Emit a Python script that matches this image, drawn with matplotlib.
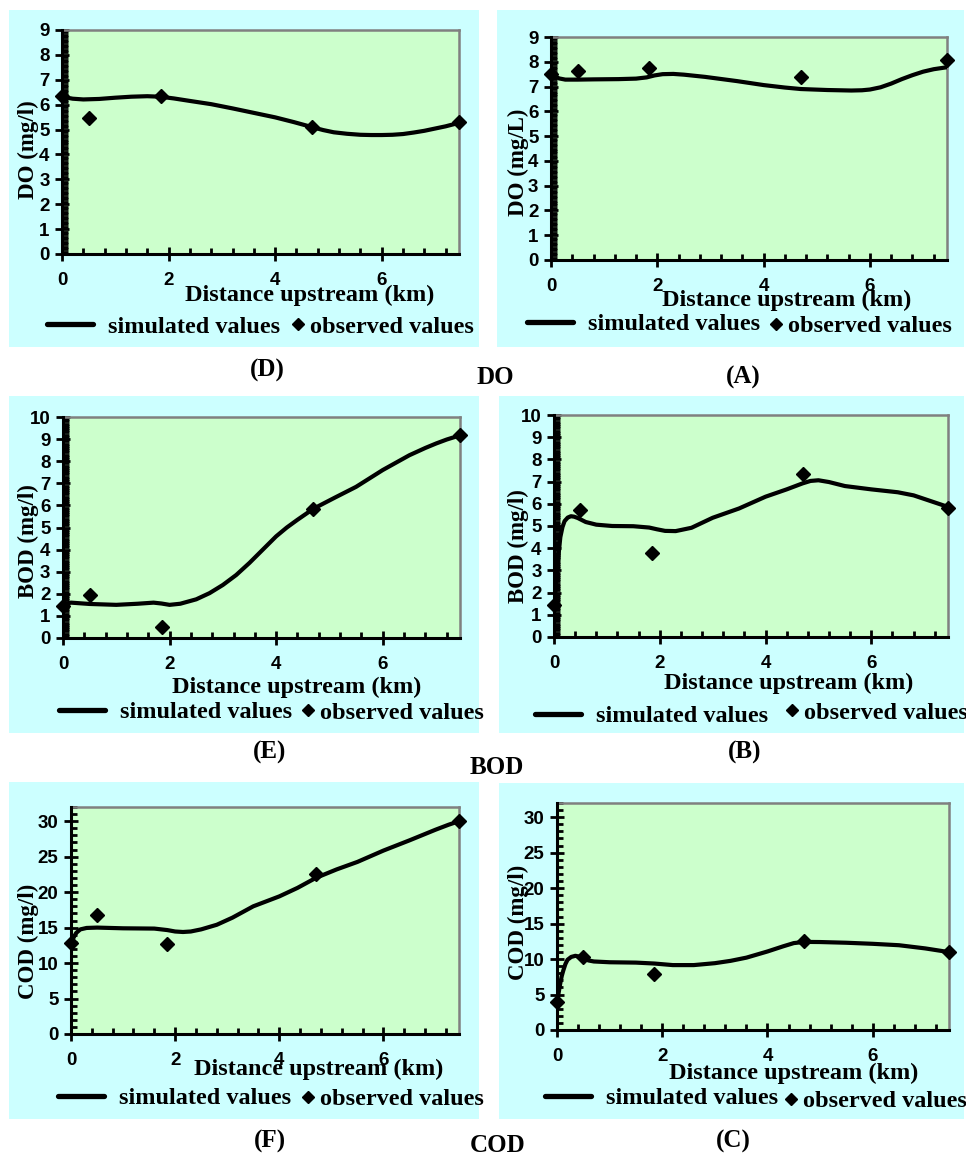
import numpy as np
import matplotlib
matplotlib.use('Agg')
import matplotlib.pyplot as plt
from matplotlib.patches import Rectangle
from matplotlib.ticker import MultipleLocator

plt.rcParams['font.family'] = ['Liberation Serif', 'DejaVu Serif']
TICK_FONT = ['Liberation Sans Narrow', 'Liberation Sans', 'DejaVu Sans']

W, H = 966, 1156
CYAN = '#ccffff'
GREEN = '#ccffcc'

# observed sampling stations (km upstream)
obs_x = [0, 0.5, 1.85, 4.7, 7.45]

# --- DO ---
do_d_obs = [6.35, 5.45, 6.33, 5.1, 5.3]
do_d_sim_x = [0, 0.2, 0.4, 0.7, 1.0, 1.3, 1.6, 1.84, 2.1, 2.4, 2.8, 3.2, 3.6, 4.0, 4.35, 4.69, 4.9,
              5.1, 5.35, 5.6, 5.8, 6.0, 6.2, 6.4, 6.6, 6.8, 7.0, 7.2, 7.45]
do_d_sim_y = [6.32, 6.24, 6.21, 6.23, 6.28, 6.32, 6.34, 6.32, 6.25, 6.15, 6.02, 5.85, 5.67, 5.49, 5.3, 5.1, 4.98,
              4.89, 4.83, 4.79, 4.78, 4.78, 4.79, 4.82, 4.88, 4.95, 5.04, 5.13, 5.27]

do_a_obs = [7.52, 7.64, 7.75, 7.39, 8.09]
do_a_sim_x = [0, 0.05, 0.15, 0.27, 0.5, 0.8, 1.27, 1.6, 1.8, 1.95, 2.1, 2.3, 2.5, 2.9, 3.5, 4.0, 4.4, 4.7,
              5.2, 5.65, 5.85, 6.0, 6.2, 6.4, 6.6, 6.8, 7.0, 7.2, 7.45]
do_a_sim_y = [7.52, 7.45, 7.33, 7.28, 7.28, 7.29, 7.30, 7.32, 7.37, 7.45, 7.5, 7.51, 7.48, 7.39, 7.22, 7.06, 6.96, 6.9,
              6.86, 6.84, 6.85, 6.88, 6.97, 7.12, 7.3, 7.46, 7.6, 7.7, 7.78]

# --- BOD ---
bod_e_obs = [1.45, 1.95, 0.5, 5.85, 9.2]
bod_e_sim_x = [0, 0.05, 0.15, 0.5, 1.0, 1.4, 1.7, 1.85, 2.0, 2.2, 2.5, 2.75, 3.0, 3.25, 3.5, 3.75, 4.0, 4.2, 4.4,
               4.7, 5.1, 5.5, 6.0, 6.5, 6.8, 7.0, 7.2, 7.45]
bod_e_sim_y = [1.45, 1.55, 1.6, 1.54, 1.5, 1.55, 1.6, 1.56, 1.5, 1.55, 1.75, 2.03, 2.4, 2.85, 3.4, 4.0, 4.6, 5.0, 5.35,
               5.85, 6.35, 6.84, 7.6, 8.27, 8.6, 8.8, 8.98, 9.17]

bod_b_obs = [1.46, 5.71, 3.79, 7.32, 5.83]
bod_b_sim_x = [0, 0.03, 0.06, 0.09, 0.12, 0.16, 0.2, 0.26, 0.32, 0.38, 0.45, 0.5, 0.6, 0.8, 1.1, 1.5, 1.8, 1.95,
               2.1, 2.3, 2.6, 3.0, 3.5, 4.0, 4.4, 4.7, 4.85, 5.0, 5.2, 5.5, 6.0, 6.5, 6.8, 7.0, 7.2, 7.45]
bod_b_sim_y = [1.46, 2.1, 2.9, 3.8, 4.5, 4.95, 5.22, 5.38, 5.44, 5.42, 5.36, 5.3, 5.18, 5.06, 5.0, 4.99, 4.93, 4.85,
               4.78, 4.77, 4.92, 5.37, 5.79, 6.32, 6.65, 6.92, 7.03, 7.06, 6.98, 6.8, 6.65, 6.52, 6.38, 6.22, 6.06, 5.86]

# --- COD ---
cod_f_obs = [12.8, 16.8, 12.7, 22.6, 30.0]
cod_f_sim_x = [0, 0.05, 0.1, 0.18, 0.3, 0.5, 1.0, 1.6, 1.85, 2.0, 2.15, 2.3, 2.5, 2.8, 3.1, 3.5, 4.0, 4.35,
               4.7, 5.1, 5.5, 6.0, 6.5, 7.0, 7.25, 7.45]
cod_f_sim_y = [12.8, 13.6, 14.25, 14.75, 14.95, 15.0, 14.9, 14.86, 14.65, 14.45, 14.38, 14.45, 14.75, 15.4, 16.4, 18.0, 19.4, 20.6,
               22.0, 23.2, 24.26, 25.86, 27.3, 28.8, 29.5, 30.0]

cod_c_obs = [4.0, 10.3, 7.9, 12.6, 11.0]
cod_c_sim_x = [0, 0.03, 0.06, 0.09, 0.12, 0.16, 0.2, 0.27, 0.35, 0.42, 0.5, 0.6, 0.7, 1.0, 1.5, 1.85, 2.2, 2.6,
               3.0, 3.3, 3.6, 4.0, 4.3, 4.5, 4.7, 5.0, 5.5, 6.0, 6.5, 7.0, 7.45]
cod_c_sim_y = [4.0, 5.2, 6.5, 7.6, 8.4, 9.3, 9.9, 10.3, 10.46, 10.35, 10.1, 9.8, 9.66, 9.55, 9.5, 9.37, 9.15, 9.15,
               9.42, 9.75, 10.2, 11.07, 11.8, 12.25, 12.42, 12.4, 12.3, 12.15, 11.95, 11.5, 10.98]


def fr(px, py):
    return px / W, 1 - py / H


fig = plt.figure(figsize=(W / 100, H / 100), dpi=100)
fig.patch.set_facecolor('white')


def panel(bg, plot, ymax, ystep, yminor, ylabel, sim_x, sim_y, obs_y,
          xlab_pos, ylab_pos, leg_line, leg_dia):
    # cyan chart area
    x0, x1, y0, y1 = bg
    fig.patches.append(Rectangle((x0 / W, 1 - y1 / H), (x1 - x0) / W, (y1 - y0) / H,
                                 transform=fig.transFigure, facecolor=CYAN,
                                 edgecolor='none', zorder=-5))
    l, r, t, b = plot
    ax = fig.add_axes([l / W, 1 - b / H, (r - l) / W, (b - t) / H])
    ax.set_zorder(1)
    ax.set_facecolor(GREEN)
    sim, = ax.plot(sim_x, sim_y, color='black', lw=3.0, solid_capstyle='round',
                   solid_joinstyle='round', zorder=3)
    obs, = ax.plot(obs_x, obs_y, linestyle='none', marker='D', ms=7,
                   color='black', zorder=4, clip_on=False)
    ax.set_xlim(0, 7.45)
    ax.set_ylim(0, ymax)
    ax.xaxis.set_major_locator(MultipleLocator(2))
    ax.xaxis.set_minor_locator(MultipleLocator(0.4))
    ax.yaxis.set_major_locator(MultipleLocator(ystep))
    ax.yaxis.set_minor_locator(MultipleLocator(yminor))
    ax.tick_params(which='major', direction='inout', length=10, width=2,
                   labelsize=13.5, pad=4)
    ax.tick_params(axis='x', which='major', pad=8)
    ax.tick_params(which='minor', direction='in', length=4, width=2)
    for lab in ax.get_xticklabels() + ax.get_yticklabels():
        lab.set_family(TICK_FONT)
        lab.set_fontweight('bold')
    for s in ['left', 'bottom']:
        ax.spines[s].set_linewidth(2.2)
        ax.spines[s].set_color('black')
        ax.spines[s].set_zorder(5)
    for s in ['top', 'right']:
        ax.spines[s].set_linewidth(1.8)
        ax.spines[s].set_color('#808080')
    ax.set_xlabel('Distance upstream (km)', fontsize=17.5, fontweight='bold')
    ax.xaxis.set_label_coords(*fr(*xlab_pos), transform=fig.transFigure)
    ax.xaxis.label.set_va('center')
    ax.set_ylabel(ylabel, fontsize=16.5, fontweight='bold')
    ax.yaxis.set_label_coords(*fr(*ylab_pos), transform=fig.transFigure)
    ax.yaxis.label.set_va('center')

    leg1 = ax.legend([sim], ['simulated values'], loc='center left',
                     bbox_to_anchor=fr(*leg_line), bbox_transform=fig.transFigure,
                     frameon=False, borderpad=0, borderaxespad=0,
                     handlelength=1.9, handletextpad=0.6,
                     prop={'size': 17.5, 'weight': 'bold'})
    leg1.get_lines()[0].set_linewidth(3.8)
    ax.add_artist(leg1)
    ax.legend([obs], ['observed values'], loc='center left',
              bbox_to_anchor=fr(*leg_dia), bbox_transform=fig.transFigure,
              frameon=False, borderpad=0, borderaxespad=0,
              handlelength=0.5, handletextpad=0.25, markerscale=0.85,
              prop={'size': 17.5, 'weight': 'bold'})
    return ax


panel((9, 479, 10, 347), (62, 459, 30, 254), 9, 1, 0.1, 'DO (mg/l)',
      do_d_sim_x, do_d_sim_y, do_d_obs, (310, 295), (28, 150), (47, 327), (292, 327))
panel((497, 964, 10, 347), (551, 947, 37, 260), 9, 1, 0.1, 'DO (mg/L)',
      do_a_sim_x, do_a_sim_y, do_a_obs, (787, 300), (518, 162), (527, 324), (770, 326))
panel((9, 479, 396, 733), (63, 460, 417, 638), 10, 1, 0.1, 'BOD (mg/l)',
      bod_e_sim_x, bod_e_sim_y, bod_e_obs, (297, 687), (28, 541), (59, 712), (302, 713))
panel((499, 964, 396, 733), (554, 948, 415, 637), 10, 1, 0.1, 'BOD (mg/l)',
      bod_b_sim_x, bod_b_sim_y, bod_b_obs, (789, 683), (518, 546), (535, 716), (786, 713))
panel((9, 479, 782, 1119), (71, 459, 807, 1034), 32, 5, 1, 'COD (mg/l)',
      cod_f_sim_x, cod_f_sim_y, cod_f_obs, (319, 1069), (28, 941), (58, 1098), (302, 1099))
panel((499, 964, 783, 1119), (557, 949, 803, 1030), 32, 5, 1, 'COD (mg/l)',
      cod_c_sim_x, cod_c_sim_y, cod_c_obs, (794, 1073), (518, 922), (545, 1098), (785, 1101))

# panel captions
captions = [('(D)', 267, 370), ('DO', 495, 377), ('(A)', 743, 377),
            ('(E)', 270, 752), ('BOD', 497, 767), ('(B)', 745, 752),
            ('(F)', 270, 1141), ('COD', 498, 1145), ('(C)', 733, 1141)]
for txt, px, py in captions:
    fig.text(*fr(px, py), txt, fontsize=18, fontweight='bold', ha='center', va='center')

fig.savefig('out.png', dpi=100, facecolor='white')
